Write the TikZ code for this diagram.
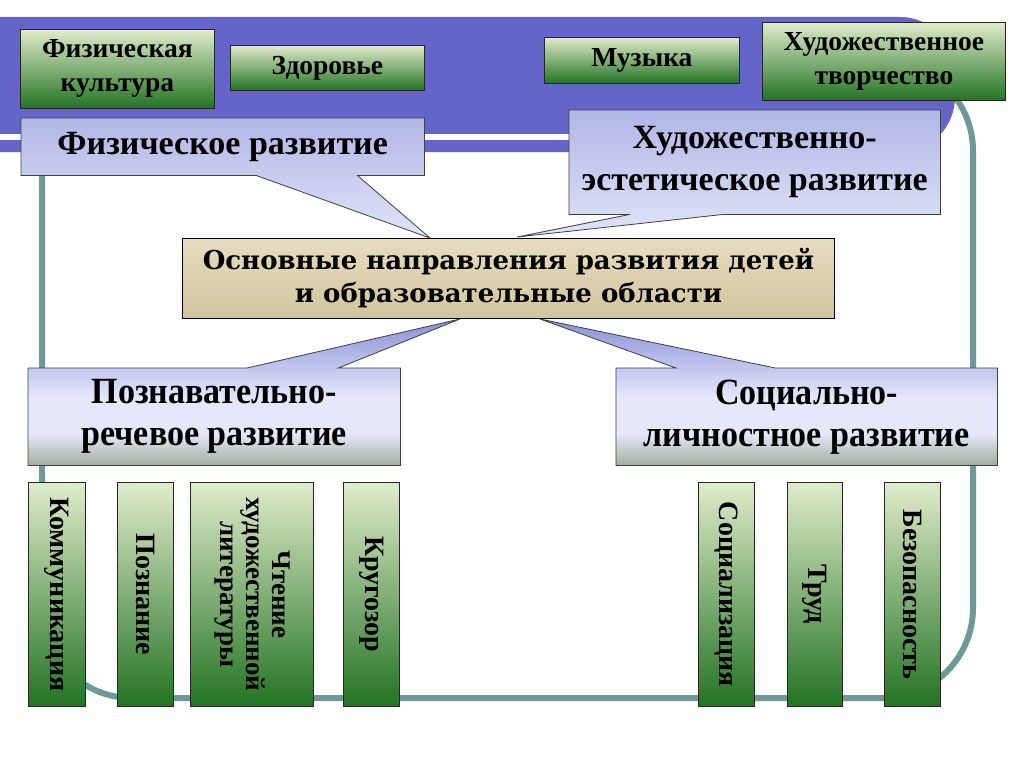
\documentclass[tikz,border=0pt]{standalone}
\usepackage{fontspec}
\setmainfont{Liberation Serif}
\newfontfamily\cfont{DejaVu Serif}
\newfontfamily\nfont{Liberation Serif}[FakeStretch=0.92]
\usetikzlibrary{calc}
\pgfdeclarelayer{back}
\pgfdeclarelayer{background}
\pgfsetlayers{back,background,main}
\definecolor{purp}{HTML}{6565C9}
\definecolor{teal2}{HTML}{6F9999}
\definecolor{gtop}{HTML}{E0EBCB}
\definecolor{gbot}{HTML}{237323}
\definecolor{btop}{HTML}{B2B6E6}
\definecolor{bbot}{HTML}{E0E5F8}
\definecolor{ltip}{HTML}{8A90D4}
\definecolor{lboxtop}{HTML}{C3C7EF}
\definecolor{lmid}{HTML}{E5E8FA}
\definecolor{lgray}{HTML}{BCC4BE}
\definecolor{lbot}{HTML}{A2AC9F}
\definecolor{ctop}{HTML}{E6DCC0}
\definecolor{cmid}{HTML}{F7F2E5}
\definecolor{cbot}{HTML}{D2C49E}
\pgfdeclareverticalshading{lowcallout}{100bp}{color(0bp)=(lbot); color(25bp)=(lbot);
  color(29bp)=(lgray); color(36bp)=(lmid); color(48bp)=(lmid); color(58bp)=(lboxtop);
  color(75bp)=(ltip); color(100bp)=(ltip)}
\begin{document}
\begin{tikzpicture}[x=1pt,y=-1pt,
  gbox/.style={draw=black!85, line width=0.8pt, top color=gtop, bottom color=gbot,
    inner sep=0pt, anchor=north west, align=center,
    font=\fontsize{27.5}{34}\selectfont\bfseries},
  vbox/.style={draw=black!85, line width=0.8pt, top color=gtop, bottom color=gbot,
    inner sep=0pt, anchor=north west, minimum height=224pt,
    font=\fontsize{28}{26}\selectfont\bfseries},
  ctext/.style={inner sep=0pt, anchor=north west, align=center,
    font=\fontsize{34}{42}\selectfont\bfseries},
  ntext/.style={inner sep=0pt, anchor=north west, align=center,
    font=\nfont\fontsize{37}{42}\selectfont\bfseries},
  calloutA/.style={draw=black!75, line width=0.8pt, top color=btop, bottom color=bbot},
  calloutB/.style={draw=black!75, line width=0.8pt, shading=lowcallout},
  mainbox/.style={draw=black, line width=1pt, top color=ctop, middle color=cmid, bottom color=cbot,
    inner sep=0pt, anchor=north west, align=center,
    font=\cfont\fontsize{26}{33}\selectfont\bfseries},
  frame/.style={draw=teal2, line width=6pt, rounded corners=90pt},
]
\useasboundingbox (0,0) rectangle (1024,768);

% background decoration
\begin{pgfonlayer}{back}
  \fill[white] (0,0) rectangle (1024,768);
  \draw[frame] (42,61) rectangle (973,698);
  \fill[purp, rounded corners=55pt] (-60,17) rectangle (955,152);
  \fill[white] (0,134) rectangle (600,140);
\end{pgfonlayer}

% green boxes on top
\node[gbox, minimum width=194pt, minimum height=79pt] (fk) at (20,29) {Физическая\\культура};
\node[gbox, minimum width=194pt, minimum height=45pt] (zd) at (230,45) {Здоровье};
\node[gbox, minimum width=195pt, minimum height=46pt] (mu) at (544,37) {Музыка};
\node[gbox, minimum width=243pt, minimum height=78pt] (ht) at (762,22) {Художественное\\творчество};

% central box
\node[mainbox, minimum width=652pt, minimum height=80pt] (main) at (182,238)
  {Основные  направления  развития  детей\\и  образовательные  области};

% callouts
\node[ctext, minimum width=403pt, minimum height=57pt] (fr) at (21,118) {Физическое развитие};
\node[ctext, minimum width=371pt, minimum height=104pt] (hr) at (569,110) {Художественно-\\эстетическое развитие};
\node[ntext, minimum width=372pt, minimum height=97pt] (pr) at (28,368) {Познавательно-\\речевое развитие};
\node[ntext, minimum width=381pt, minimum height=97pt] (sr) at (616,368) {Социально-\\личностное развитие};

\coordinate (frtip) at (430,238);
\coordinate (hrtip) at (517,237);
\coordinate (prtip) at (460,319);
\coordinate (srtip) at (540,319);

\begin{pgfonlayer}{background}
  \path[calloutA] (fr.north west) -- (fr.north east) -- (fr.south east)
    -- ([xshift=-67pt]fr.south east) -- (frtip) -- ([xshift=235pt]fr.south west)
    -- (fr.south west) -- cycle;
  \path[calloutA] (hr.north west) -- (hr.north east) -- (hr.south east)
    -- ([xshift=-217pt]hr.south east) -- (hrtip) -- ([xshift=61pt]hr.south west)
    -- (hr.south west) -- cycle;
  \path[calloutB] (pr.north west) -- ([xshift=219pt]pr.north west) -- (prtip)
    -- ([xshift=-62pt]pr.north east) -- (pr.north east) -- (pr.south east)
    -- (pr.south west) -- cycle;
  \path[calloutB] (sr.north west) -- ([xshift=60pt]sr.north west) -- (srtip)
    -- ([xshift=-222pt]sr.north east) -- (sr.north east) -- (sr.south east)
    -- (sr.south west) -- cycle;
\end{pgfonlayer}

% vertical boxes
\node[vbox, minimum width=57pt] (v1) at (28,482) {\rotatebox{-90}{Коммуникация}};
\node[vbox, minimum width=56pt] (v2) at (117,482) {\rotatebox{-90}{Познание}};
\node[vbox, minimum width=123pt, font=\fontsize{27}{26}\selectfont\bfseries] (v3) at (190,482)
  {\rotatebox{-90}{\begin{tabular}{@{}c@{}}Чтение\\художественной\\литературы\end{tabular}}};
\node[vbox, minimum width=56pt] (v4) at (343,482) {\rotatebox{-90}{Кругозор}};
\node[vbox, minimum width=56pt] (v5) at (698,482) {\rotatebox{-90}{Социализация}};
\node[vbox, minimum width=55pt] (v6) at (787,482) {\rotatebox{-90}{Труд}};
\node[vbox, minimum width=56pt] (v7) at (884,482) {\rotatebox{-90}{Безопасность}};
\end{tikzpicture}
\end{document}
